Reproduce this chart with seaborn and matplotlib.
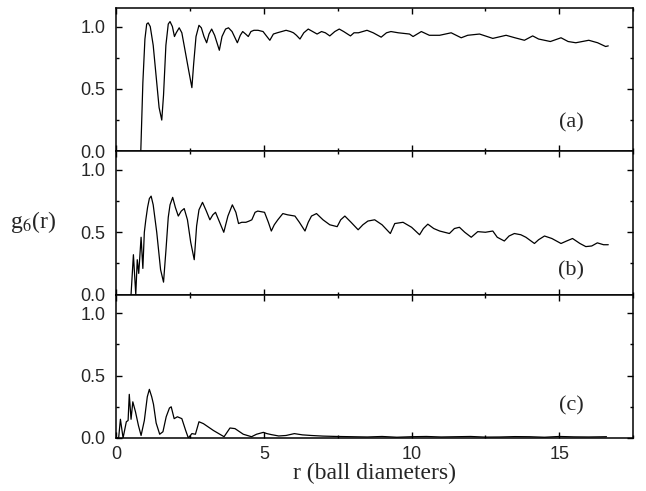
import numpy as np
import seaborn as sns
import matplotlib.pyplot as plt

# g6(r): (a), (b), (c)
r_a = [0.83, 0.90, 0.97, 1.03, 1.08, 1.15, 1.25, 1.35, 1.45, 1.54, 1.60, 1.68, 1.76, 1.82,
       1.90, 1.97, 2.03, 2.13, 2.22, 2.32, 2.45, 2.56, 2.62, 2.70, 2.80, 2.88, 2.97, 3.06,
       3.14, 3.23, 3.33, 3.49, 3.58, 3.70, 3.80, 3.92, 4.10, 4.20, 4.28, 4.38, 4.47, 4.56,
       4.66, 4.80, 4.97, 5.10, 5.20, 5.32, 5.45, 5.60, 5.75, 5.90, 6.00, 6.10, 6.22, 6.35,
       6.50, 6.65, 6.80, 6.95, 7.08, 7.23, 7.40, 7.55, 7.70, 7.93, 8.05, 8.20, 8.49, 8.70,
       8.97, 9.15, 9.30, 9.55, 9.93, 10.05, 10.33, 10.60, 10.95, 11.34, 11.68, 11.90, 12.30,
       12.75, 13.20, 13.50, 13.82, 14.10, 14.30, 14.70, 15.06, 15.30, 15.56, 16.00, 16.30,
       16.57, 16.66]
g_a = [0.0, 0.55, 0.90, 1.02, 1.03, 1.0, 0.85, 0.6, 0.35, 0.25, 0.45, 0.85, 1.02, 1.04,
       1.0, 0.92, 0.95, 0.99, 0.95, 0.82, 0.65, 0.51, 0.7, 0.92, 1.01, 0.99, 0.92, 0.87,
       0.94, 0.98, 0.93, 0.81, 0.92, 0.98, 0.99, 0.96, 0.87, 0.93, 0.96, 0.94, 0.92, 0.96,
       0.97, 0.97, 0.96, 0.92, 0.89, 0.94, 0.95, 0.96, 0.97, 0.96, 0.95, 0.93, 0.90, 0.95,
       0.98, 0.96, 0.94, 0.96, 0.95, 0.925, 0.96, 0.98, 0.96, 0.925, 0.95, 0.95, 0.97, 0.95,
       0.915, 0.95, 0.96, 0.95, 0.94, 0.92, 0.96, 0.93, 0.93, 0.95, 0.91, 0.93, 0.94,
       0.905, 0.93, 0.91, 0.89, 0.925, 0.90, 0.88, 0.91, 0.88, 0.87, 0.89, 0.87,
       0.84, 0.845]

r_b = [0.50, 0.58, 0.66, 0.71, 0.76, 0.84, 0.90, 0.95, 1.00, 1.06, 1.12, 1.18, 1.25, 1.37,
       1.50, 1.60, 1.68, 1.76, 1.82, 1.91, 2.00, 2.10, 2.20, 2.30, 2.41, 2.52, 2.64, 2.72,
       2.80, 2.92, 3.05, 3.17, 3.27, 3.36, 3.50, 3.64, 3.78, 3.93, 4.05, 4.14, 4.25, 4.39,
       4.50, 4.59, 4.70, 4.79, 5.02, 5.15, 5.25, 5.35, 5.47, 5.64, 5.80, 6.05, 6.20, 6.39,
       6.50, 6.61, 6.78, 7.00, 7.23, 7.48, 7.60, 7.74, 7.95, 8.19, 8.35, 8.52, 8.75, 9.00,
       9.28, 9.43, 9.71, 10.00, 10.27, 10.40, 10.55, 10.75, 10.95, 11.28, 11.45, 11.62,
       11.80, 12.02, 12.24, 12.50, 12.75, 12.90, 13.14, 13.30, 13.48, 13.70, 13.87, 14.16,
       14.30, 14.50, 14.75, 15.06, 15.25, 15.45, 15.70, 15.90, 16.10, 16.29, 16.50, 16.66]
g_b = [0.0, 0.32, 0.0, 0.28, 0.17, 0.46, 0.21, 0.50, 0.60, 0.70, 0.77, 0.79, 0.72, 0.50,
       0.20, 0.10, 0.35, 0.62, 0.72, 0.78, 0.70, 0.63, 0.67, 0.69, 0.60, 0.42, 0.28, 0.55,
       0.68, 0.74, 0.67, 0.60, 0.64, 0.66, 0.58, 0.50, 0.63, 0.72, 0.66, 0.57, 0.58, 0.58,
       0.59, 0.60, 0.66, 0.67, 0.66, 0.58, 0.51, 0.56, 0.60, 0.65, 0.64, 0.63, 0.58, 0.51,
       0.58, 0.63, 0.65, 0.60, 0.56, 0.545, 0.60, 0.63, 0.58, 0.52, 0.56, 0.59, 0.60, 0.56,
       0.49, 0.57, 0.58, 0.54, 0.48, 0.53, 0.565, 0.53, 0.51, 0.49, 0.53, 0.54,
       0.50, 0.46, 0.505, 0.50, 0.51, 0.46, 0.43, 0.47, 0.49, 0.48, 0.46, 0.41,
       0.44, 0.47, 0.45, 0.41, 0.43, 0.45, 0.41, 0.385, 0.39, 0.415, 0.40, 0.40]

r_c = [0.0, 0.08, 0.14, 0.23, 0.34, 0.40, 0.44, 0.50, 0.56, 0.65, 0.75, 0.84, 0.95, 1.05,
       1.12, 1.20, 1.26, 1.35, 1.47, 1.58, 1.69, 1.80, 1.86, 1.96, 2.07, 2.22, 2.35, 2.44,
       2.56, 2.68, 2.80, 2.95, 3.29, 3.65, 3.85, 4.02, 4.30, 4.58, 4.75, 4.98, 5.10, 5.25,
       5.50, 5.75, 6.03, 6.30, 6.60, 7.00, 7.50, 8.00, 8.50, 9.00, 9.50, 10.00, 10.50,
       11.00, 11.50, 12.00, 12.50, 13.00, 13.50, 14.00, 14.50, 15.00, 15.50, 16.00, 16.60]
g_c = [0.0, 0.0, 0.15, 0.0, 0.13, 0.14, 0.35, 0.15, 0.29, 0.21, 0.10, 0.02, 0.14, 0.33,
       0.39, 0.33, 0.27, 0.12, 0.03, 0.05, 0.17, 0.24, 0.25, 0.155, 0.17, 0.155, 0.06, 0.0,
       0.035, 0.03, 0.13, 0.115, 0.06, 0.01, 0.08, 0.075, 0.03, 0.01, 0.03, 0.045, 0.035, 0.027,
       0.016, 0.02, 0.035, 0.025, 0.02, 0.015, 0.012, 0.01, 0.008, 0.012, 0.006, 0.01, 0.012,
       0.008, 0.01, 0.012, 0.007, 0.008, 0.011, 0.01, 0.006, 0.012, 0.009, 0.008, 0.01]

panele = [(r_a, g_a, "(a)", 0.225), (r_b, g_b, "(b)", 0.19), (r_c, g_c, "(c)", 0.26)]

sns.set_style("ticks")
plt.rcParams['font.family'] = ['Liberation Sans', 'DejaVu Sans']
plt.rcParams['mathtext.fontset'] = 'stix'

fig, axes = plt.subplots(3, 1, figsize=(6.46, 4.91), dpi=100, sharex=True)
fig.subplots_adjust(left=0.18, right=0.98, top=0.984, bottom=0.108, hspace=0)

for ax, (r, g, etykieta, ypos) in zip(axes, panele):
    sns.lineplot(x=np.array(r), y=np.array(g), ax=ax, color='black', linewidth=0.9,
                 estimator=None, sort=False)
    ax.set_xlim(0, 17.5)
    ax.set_ylim(0, 1.15)
    ax.set_yticks([0, 0.5, 1.0])
    ax.set_yticks([0.25, 0.75], minor=True)
    ax.set_xticks([0, 5, 10, 15])
    ax.set_xticks([2.5, 7.5, 12.5, 17.5], minor=True)
    ax.yaxis.set_major_formatter(plt.FormatStrFormatter('%.1f'))
    ax.tick_params(which='both', direction='in', top=True, right=True, labelsize=13,
                   width=1, color='black')
    ax.tick_params(which='major', length=4.5, pad=8)
    ax.tick_params(which='minor', length=2.5)
    ax.tick_params(axis='x', which='major', pad=6)
    for s in ax.spines.values():
        s.set_linewidth(1.1)
        s.set_color('black')
    ax.set_ylabel("")
    ax.text(15.4, ypos, etykieta, ha='center', va='center', fontsize=16,
            family='Liberation Serif')

axes[2].set_xlabel("r (ball diameters)", fontsize=17, family='Liberation Serif', labelpad=0)
fig.text(0.051, 0.548, r"g$_6$(r)", fontsize=17, family='Liberation Serif',
         ha='center', va='center')

plt.savefig("out.png", dpi=100)
